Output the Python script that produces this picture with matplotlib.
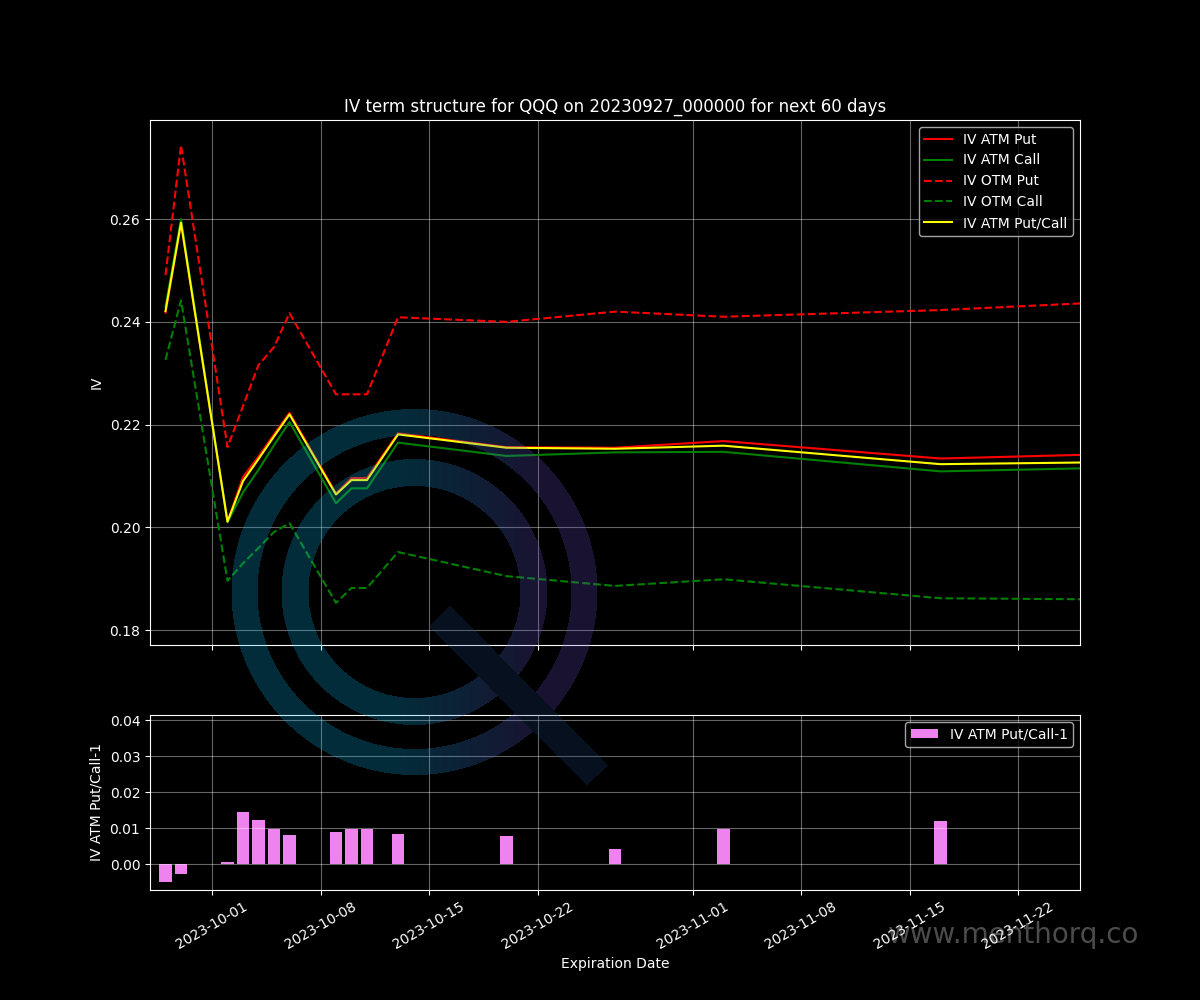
#!/usr/bin/env python3
import matplotlib
matplotlib.use('Agg')
import matplotlib.pyplot as plt
import numpy as np
import pandas as pd


expiries = ['2023-09-28', '2023-09-29', '2023-10-02', '2023-10-03', '2023-10-04',
            '2023-10-05', '2023-10-06', '2023-10-09', '2023-10-10', '2023-10-11',
            '2023-10-13', '2023-10-20', '2023-10-27', '2023-11-03', '2023-11-17',
            '2023-12-01']

iv_atm_put = [0.2418, 0.2593, 0.2011, 0.2098, 0.2138, 0.2181, 0.2223, 0.2066,
              0.2096, 0.2096, 0.2183, 0.2156, 0.2155, 0.2168, 0.2134, 0.2145]
iv_atm_call = [0.2430, 0.2600, 0.2010, 0.2068, 0.2112, 0.2160, 0.2205, 0.2047,
               0.2076, 0.2076, 0.2165, 0.2139, 0.2146, 0.2147, 0.2109, 0.2118]
iv_otm_put = [0.2491, 0.2744, 0.2156, 0.2236, 0.2316, 0.2351, 0.2417, 0.2259,
              0.2259, 0.2259, 0.2409, 0.2400, 0.2420, 0.2410, 0.2423, 0.2443]
iv_otm_call = [0.2326, 0.2442, 0.1896, 0.1930, 0.1960, 0.1991, 0.2008, 0.1853,
               0.1882, 0.1882, 0.1952, 0.1905, 0.1886, 0.1899, 0.1862, 0.1859]
iv_atm_pc = [0.2421, 0.2593, 0.2011, 0.2090, 0.2133, 0.2177, 0.2220, 0.2064,
             0.2092, 0.2092, 0.2181, 0.2155, 0.2153, 0.2159, 0.2123, 0.2128]
iv_atm_pc_diff = [-0.0050, -0.0028, 0.0006, 0.0144, 0.0122, 0.0097, 0.0081, 0.0089,
                  0.0097, 0.0097, 0.0083, 0.0078, 0.0042, 0.0097, 0.0119, 0.0127]

start_date = '2023-09-27'
end_date = '2023-11-26'


def logo_overlay(fig):
    # semi transparent "Q" watermark, drawn in figure pixels
    h, w = 1000, 1200
    yy, xx = np.mgrid[0:h, 0:w] + 0.5
    cx, cy = 414.5, 592.0
    r = np.hypot(xx - cx, yy - cy)
    ring = ((r >= 157) & (r <= 183)) | ((r >= 106) & (r <= 133))

    p0 = np.array([439.7, 616.2])
    p1 = np.array([597.5, 775.5])
    axis = p1 - p0
    length = np.hypot(*axis)
    u = axis / length
    t = (xx - p0[0]) * u[0] + (yy - p0[1]) * u[1]
    d = -(xx - p0[0]) * u[1] + (yy - p0[1]) * u[0]
    handle = (t >= 0) & (t <= length) & (np.abs(d) <= 14.8)

    alpha = 0.25
    teal = np.array([12, 180, 232]) / 255
    purple = np.array([104, 80, 200]) / 255
    navy = np.array([30, 66, 122]) / 255
    g = np.clip((xx - 400) / 140, 0, 1)[..., None]
    col = teal * (1 - g) + purple * g

    img = np.zeros((h, w, 4))
    img[..., :3] = col
    img[handle, :3] = navy
    img[..., 3] = np.where(ring | handle, alpha, 0)

    ax = fig.add_axes([0, 0, 1, 1], zorder=5)
    ax.imshow(img, extent=(0, w, h, 0), interpolation='nearest')
    ax.set_xlim(0, w)
    ax.set_ylim(h, 0)
    ax.axis('off')


def plot():
    plt.style.use('dark_background')
    dates = pd.to_datetime(expiries)

    fig, (ax1, ax2) = plt.subplots(2, 1, figsize=(12, 10), sharex=True,
                                   gridspec_kw={'height_ratios': [3, 1]})

    ax1.plot(dates, iv_atm_put, 'r', label='IV ATM Put')
    ax1.plot(dates, iv_atm_call, 'g', label='IV ATM Call')
    ax1.plot(dates, iv_otm_put, 'r--', label='IV OTM Put')
    ax1.plot(dates, iv_otm_call, 'g--', label='IV OTM Call')
    ax1.plot(dates, iv_atm_pc, 'yellow', label='IV ATM Put/Call')
    ax1.set_title('IV term structure for QQQ on 20230927_000000 for next 60 days')
    ax1.set_ylabel('IV')
    ax1.set_ylim(0.1771, 0.2793)
    ax1.grid(alpha=0.4)
    ax1.legend(loc='upper right')

    ax2.bar(dates, iv_atm_pc_diff, color='violet', label='IV ATM Put/Call-1')
    ax2.set_ylabel('IV ATM Put/Call-1')
    ax2.set_xlabel('Expiration Date')
    ax2.set_ylim(-0.0072, 0.0414)
    ax2.grid(alpha=0.4)
    ax2.legend(loc='upper right')

    ax2.set_xlim(pd.Timestamp(start_date), pd.Timestamp(end_date))
    plt.setp(ax2.get_xticklabels(), rotation=30)

    logo_overlay(fig)
    fig.text(0.7395, 0.065, 'www.menthorq.co', fontsize=20, color='white',
             alpha=0.3, va='center', zorder=6)

    fig.savefig('out.png', dpi=100)


if __name__ == '__main__':
    plot()
